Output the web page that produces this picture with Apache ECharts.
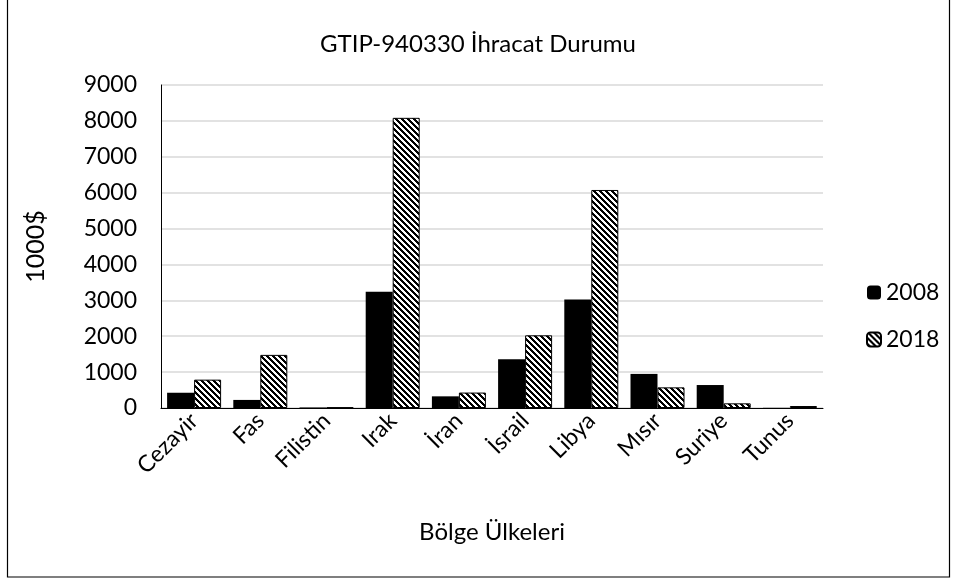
<!DOCTYPE html>
<html lang="tr">
<head>
    <meta charset="UTF-8">
    <title>GTIP-940330</title>
    <script src="https://cdn.jsdelivr.net/npm/echarts@6/dist/echarts.min.js"></script>
    <style>
        body {margin:0; background:#fff}
    </style>
</head>
<body>
<div id="main" style="width: 956px; height:581px;"></div>
<script>
    var ulkeler = ['Cezayir', 'Fas', 'Filistin', 'Irak', 'İran', 'İsrail', 'Libya', 'Mısır', 'Suriye', 'Tunus'];
    var y2008 = [425, 225, 15, 3240, 325, 1355, 3025, 950, 640, 5];
    var y2018 = [790, 1480, 15, 8085, 430, 2025, 6075, 575, 130, 55];

    // tarama deseni (\\\)
    var desen = document.createElement('canvas');
    desen.width = 6;
    desen.height = 6;
    var ctx = desen.getContext('2d');
    ctx.fillStyle = '#fff';
    ctx.fillRect(0, 0, 6, 6);
    ctx.fillStyle = '#000';
    for (var y = 0; y < 6; y++) {
        for (var x = 0; x < 6; x++) {
            var d = ((x - y) % 6 + 6) % 6;
            if (d < 3) ctx.fillRect(x, y, 1, 1);
        }
    }

    var yazi = 'Lato';
    var chart = echarts.init(document.getElementById('main'));
    chart.setOption({
        animation: false,
        textStyle: {fontFamily: yazi, color: '#000'},
        title: {
            text: 'GTIP-940330 İhracat Durumu',
            left: 'center',
            top: 27,
            textStyle: {fontFamily: yazi, fontSize: 24, fontWeight: 'normal', color: '#000'}
        },
        legend: {
            orient: 'vertical',
            left: 861,
            top: 276,
            itemWidth: 14,
            itemHeight: 14,
            itemGap: 24,
            textStyle: {fontFamily: yazi, fontSize: 23, color: '#000'},
            data: ['2008', '2018']
        },
        grid: {left: 161, right: 133, top: 85, bottom: 173},
        xAxis: {
            type: 'category',
            data: ulkeler,
            name: 'Bölge Ülkeleri',
            nameLocation: 'middle',
            nameGap: 112,
            nameTextStyle: {fontFamily: yazi, fontSize: 24, color: '#000'},
            axisLine: {lineStyle: {color: '#000', width: 1}},
            axisTick: {show: false},
            axisLabel: {rotate: 45, fontSize: 23, color: '#000', fontFamily: yazi, margin: 9},
            splitLine: {show: false}
        },
        yAxis: {
            type: 'value',
            min: 0,
            max: 9000,
            interval: 1000,
            name: '1000$',
            nameLocation: 'middle',
            nameGap: 113,
            nameTextStyle: {fontFamily: yazi, fontSize: 25, color: '#000'},
            axisLine: {show: true, lineStyle: {color: '#000', width: 1}},
            axisTick: {show: false},
            axisLabel: {
                fontSize: 23, color: '#000', fontFamily: yazi, margin: 24,
                formatter: function (v) { return String(v); }
            },
            splitLine: {lineStyle: {color: '#d9d9d9', width: 1.5}}
        },
        series: [
            {
                name: '2008',
                type: 'bar',
                barWidth: 27,
                barGap: '0%',
                itemStyle: {color: '#000'},
                data: y2008
            },
            {
                name: '2018',
                type: 'bar',
                barWidth: 27,
                itemStyle: {
                    color: {image: desen, repeat: 'repeat'},
                    borderColor: '#000',
                    borderWidth: 1
                },
                data: y2018
            }
        ],
        graphic: [{
            type: 'rect',
            shape: {x: 7.5, y: -2, width: 942, height: 579},
            style: {fill: 'none', stroke: '#000', lineWidth: 1.2},
            silent: true
        }]
    });
</script>
</body>
</html>
